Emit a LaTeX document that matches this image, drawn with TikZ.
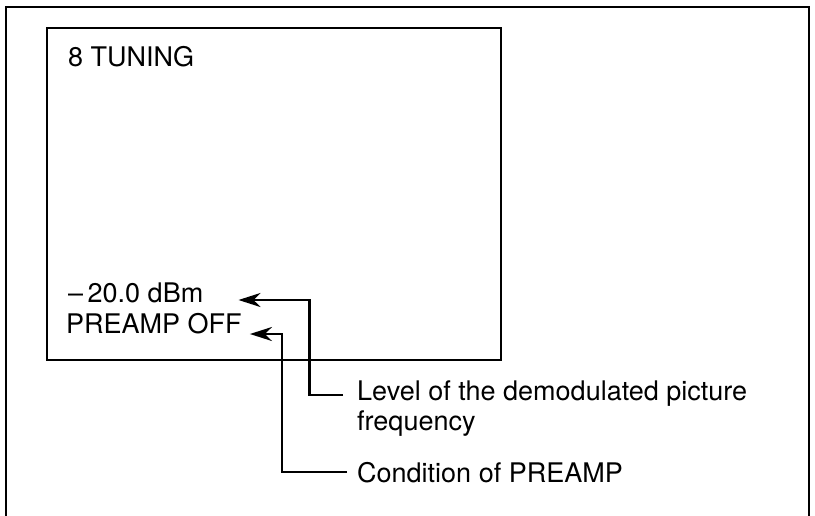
\documentclass[tikz,border=0pt]{standalone}
\usepackage{fontspec}
\setmainfont{TeX Gyre Heros}
\usetikzlibrary{arrows.meta,positioning}
\tikzset{
  frame/.style={line width=2.6pt},
  screen/.style={draw,line width=2.4pt,minimum width=454pt,minimum height=332pt,inner sep=0pt,anchor=north west},
  txt/.style={font=\fontsize{27}{30}\selectfont,inner sep=0pt,anchor=base west,align=left},
  arr/.style={-{Stealth[length=22pt,width=14pt,inset=7pt]},line width=2.4pt},
}
\begin{document}
\begin{tikzpicture}[x=1pt,y=-1pt]
\useasboundingbox (0,0) rectangle (815,515);
\draw[frame] (6,516) |- (809,7) -- (809,516);
\node[screen] (scr) at (46,27) {};
\node[txt] (title) at (68,66) {8 TUNING};
\node[txt] (dbm) at (68,302) {–\,20.0 dBm};
\node[txt] (pre) at (66,333) {PREAMP OFF};
\node[txt] (lvl) at (357,430) {Level of the demodulated picture\\frequency};
\node[txt] (cond) at (357,482) {Condition of PREAMP};
\draw[arr] ([shift={(-14,-35)}]lvl.base west) -| ([shift={(106,-2)}]dbm.base east) -- ([shift={(35,-2)}]dbm.base east);
\draw[arr] ([shift={(-10,-10)}]cond.base west) -| ([shift={(40,1)}]pre.base east) -- ([shift={(8,1)}]pre.base east);
\end{tikzpicture}
\end{document}
